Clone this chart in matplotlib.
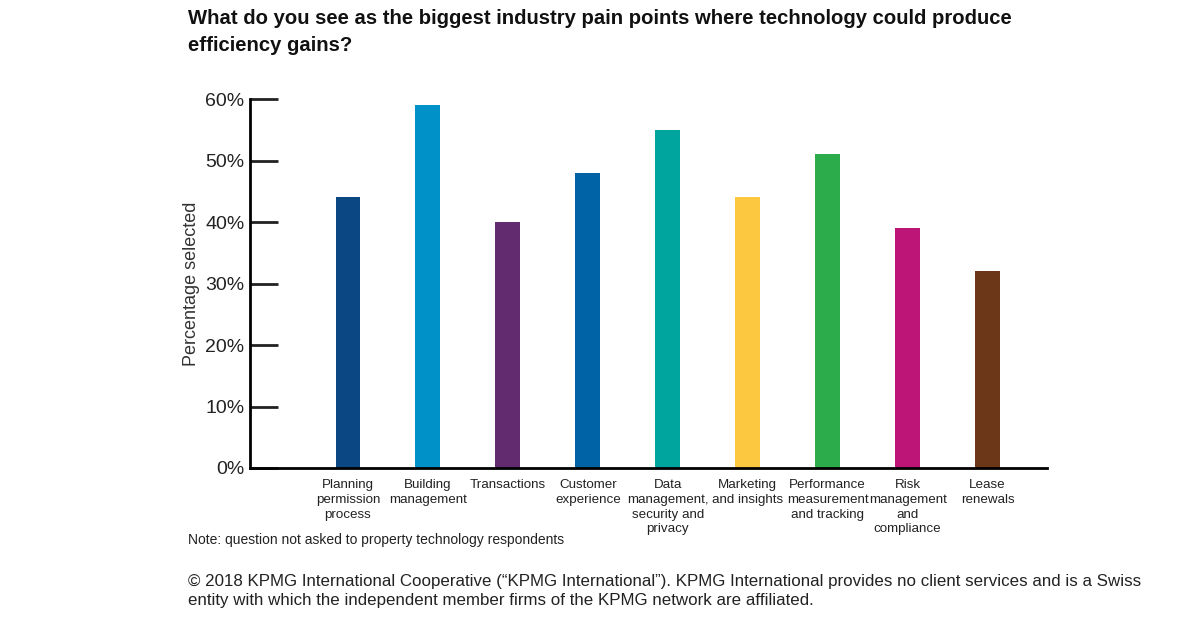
import matplotlib.pyplot as plt
from matplotlib.ticker import PercentFormatter

categories = ['Planning\npermission\nprocess', 'Building\nmanagement', 'Transactions',
              'Customer\nexperience', 'Data\nmanagement,\nsecurity and\nprivacy',
              'Marketing\nand insights', 'Performance\nmeasurement\nand tracking',
              'Risk\nmanagement\nand\ncompliance', 'Lease\nrenewals']
values = [44, 59, 40, 48, 55, 44, 51, 39, 32]
colors = ['#0a4783', '#0091c9', '#622a6f', '#0063a5', '#00a69d',
          '#fbc840', '#2cac4a', '#bd1478', '#6c3619']

plt.rcParams['font.family'] = ['Liberation Sans', 'DejaVu Sans']

fig = plt.figure(figsize=(12, 6.27), dpi=100)
ax = fig.add_axes([0.2083, 0.2536, 0.664, 0.5884])

x = list(range(len(values)))
ax.bar(x, values, width=0.31, color=colors)
ax.set_xlim(-1.225, 8.74)
ax.set_ylim(0, 60)
ax.set_yticks(range(0, 61, 10))
ax.yaxis.set_major_formatter(PercentFormatter(decimals=0))
ax.tick_params(axis='y', direction='in', length=20, width=2, labelsize=14,
               colors='#222222', pad=4)
ax.tick_params(axis='x', length=0, pad=8)
ax.set_xticks(x)
ax.set_xticklabels(categories, fontsize=9.6, color='#222222', va='top', linespacing=1.3)
for s in ['top', 'right']:
    ax.spines[s].set_visible(False)
for s in ['left', 'bottom']:
    ax.spines[s].set_linewidth(2)
ax.set_ylabel('Percentage selected', fontsize=13, color='#333333', labelpad=4)

fig.text(0.157, 0.985, 'What do you see as the biggest industry pain points where technology could produce\nefficiency gains?',
         fontsize=14.6, fontweight='bold', va='top', color='#111111', linespacing=1.5)
fig.text(0.157, 0.133, 'Note: question not asked to property technology respondents',
         fontsize=10, color='#222222')
fig.text(0.157, 0.035, '\u00a9 2018 KPMG International Cooperative (\u201cKPMG International\u201d). KPMG International provides no client services and is a Swiss\nentity with which the independent member firms of the KPMG network are affiliated.',
         fontsize=12.2, color='#222222', linespacing=1.3)

fig.savefig('out.png', dpi=100)
